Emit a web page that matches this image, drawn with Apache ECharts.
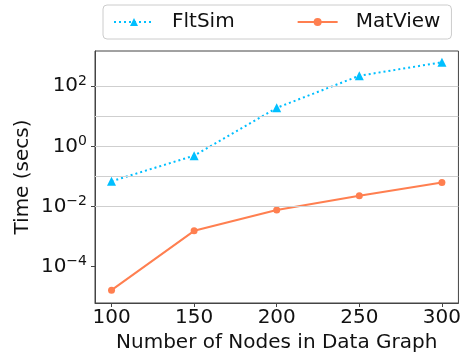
<!DOCTYPE html>
<html>
<head>
<meta charset="utf-8">
<script src="https://cdn.jsdelivr.net/npm/echarts@6/dist/echarts.min.js"></script>
<style>
  html, body { margin: 0; padding: 0; background: #fff; }
  #chart { width: 464px; height: 358px; }
</style>
</head>
<body>
<div id="chart"></div>
<script>
var nodes = [100, 150, 200, 250, 300];
var fltSim = [0.069, 0.49, 19, 222, 626];
var matView = [1.65e-5, 1.55e-3, 7.6e-3, 0.0228, 0.063];
var xTicks = [100, 150, 200, 250, 300];
var yTicks = [1e-4, 1e-2, 1, 1e2];
var gridDecades = [1e-4, 1e-3, 1e-2, 1e-1, 1, 1e1, 1e2];

var FONT = 'DejaVu Sans';
var supMap = { '-': '\u2212', '0': '0', '1': '1', '2': '2', '3': '3', '4': '4' };

function pairs(xs, ys) {
  return xs.map(function (x, i) { return [x, ys[i]]; });
}

var myChart = echarts.init(document.getElementById('chart'));
var option = {
  animation: false,
  textStyle: { fontFamily: FONT },
  grid: {
    left: 95, right: 4, top: 51, bottom: 53,
    show: true, borderColor: '#444', borderWidth: 1
  },
  legend: {
    data: ['FltSim', 'MatView'],
    left: 103, top: 5,
    padding: [7, 11, 7, 10],
    itemWidth: 40, itemHeight: 10,
    itemGap: 62,
    backgroundColor: '#fff',
    borderColor: '#ccc', borderWidth: 1, borderRadius: 4,
    textStyle: { fontSize: 20, color: '#111', fontFamily: FONT, padding: [0, 0, 0, 13] }
  },
  xAxis: {
    type: 'value', min: 90, max: 310,
    name: 'Number of Nodes in Data Graph',
    nameLocation: 'middle', nameGap: 30,
    nameTextStyle: { fontSize: 20, color: '#111', fontFamily: FONT },
    axisLine: { show: true, lineStyle: { color: '#444' } },
    axisTick: { show: true, length: 4, customValues: xTicks, lineStyle: { color: '#444' } },
    axisLabel: { customValues: xTicks, fontSize: 20, color: '#111', margin: 5, fontFamily: FONT },
    splitLine: { show: false }
  },
  yAxis: {
    type: 'log',
    min: Math.pow(10, -5.21), max: Math.pow(10, 3.17),
    name: 'Time (secs)',
    nameLocation: 'middle', nameGap: 62,
    nameMoveOverlap: false,
    nameTextStyle: { fontSize: 20, color: '#111', fontFamily: FONT },
    axisLine: { show: true, lineStyle: { color: '#444' } },
    axisTick: { show: true, length: 4, customValues: yTicks, lineStyle: { color: '#444' } },
    axisLabel: {
      customValues: yTicks, margin: 8, color: '#111',
      formatter: function (v) {
        var e = String(Math.round(Math.log10(v)));
        var s = e.split('').map(function (c) { return supMap[c]; }).join('');
        return '{b|10}{e|' + s + '}';
      },
      rich: {
        b: { fontSize: 20, fontFamily: FONT, color: '#111', lineHeight: 24 },
        e: { fontSize: 14, fontFamily: FONT, color: '#111', verticalAlign: 'top', lineHeight: 15 }
      }
    },
    splitLine: { show: false }
  },
  series: [
    {
      type: 'line', name: 'grid', data: [], silent: true,
      markLine: {
        silent: true, symbol: 'none', label: { show: false },
        lineStyle: { color: '#cfcfcf', type: 'solid', width: 1 },
        data: gridDecades.map(function (v) { return { yAxis: v }; })
      }
    },
    {
      type: 'line', name: 'FltSim',
      data: pairs(nodes, fltSim),
      color: '#00BFFF',
      symbol: 'triangle', symbolSize: 9,
      lineStyle: { width: 2, type: [2, 3], color: '#00BFFF' },
      itemStyle: { color: '#00BFFF' }
    },
    {
      type: 'line', name: 'MatView',
      data: pairs(nodes, matView),
      color: '#FF7F50',
      symbol: 'circle', symbolSize: 7,
      lineStyle: { width: 2, color: '#FF7F50' },
      itemStyle: { color: '#FF7F50' }
    }
  ]
};
myChart.setOption(option);
</script>
</body>
</html>
